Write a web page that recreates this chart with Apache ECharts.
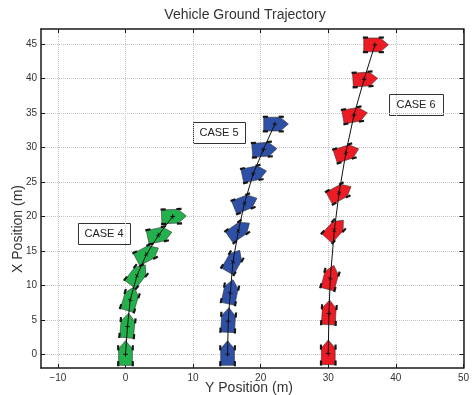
<!DOCTYPE html>
<html>
<head>
<meta charset="utf-8">
<script src="https://cdn.jsdelivr.net/npm/echarts@6/dist/echarts.min.js"></script>
<style>
  html, body { margin: 0; padding: 0; background: #fff; }
  #main { width: 472px; height: 395px; }
</style>
</head>
<body>
<div id="main"></div>
<script>
// tick values
var xTicks = [-10, 0, 10, 20, 30, 40, 50];
var yTicks = [0, 5, 10, 15, 20, 25, 30, 35, 40, 45];

// case 4 (green): lateral Y, longitudinal X, heading in degrees (0 = up, 90 = right)
var case4Y = [0, 0.3, 0.7, 1.7, 3.1, 4.9, 7.0];
var case4X = [0, 4.0, 7.9, 11.4, 14.5, 17.3, 20.0];
var case4H = [0, 5, 17, 38, 62, 78, 88];

// case 5 (blue)
var case5Y = [15.1, 15.2, 15.5, 15.9, 16.7, 17.6, 18.9, 20.4, 22.1];
var case5X = [0, 4.8, 8.9, 13.4, 17.9, 21.9, 26.2, 29.7, 33.4];
var case5H = [0, 3, 12, 30, 55, 68, 78, 86, 90];

// case 6 (red)
var case6Y = [30.0, 30.1, 30.3, 30.9, 31.6, 32.6, 33.8, 35.3, 36.9];
var case6X = [0.1, 5.9, 11.0, 18.0, 23.4, 29.2, 34.7, 39.9, 44.9];
var case6H = [0, 3, 15, 42, 62, 72, 80, 86, 90];

var caseNames = ["CASE 4", "CASE 5", "CASE 6"];

var FONT = "Liberation Sans, Arial, sans-serif";

function zip3(a, b, c) {
  var out = [];
  for (var i = 0; i < a.length; i++) out.push([a[i], b[i], c[i]]);
  return out;
}
function zip2(a, b) {
  var out = [];
  for (var i = 0; i < a.length; i++) out.push([a[i], b[i]]);
  return out;
}

// point in vehicle frame (f forward, l to the right) -> screen px
function pt(c, a, f, l, k) {
  return [c[0] + k * (f * Math.sin(a) + l * Math.cos(a)),
          c[1] + k * (-f * Math.cos(a) + l * Math.sin(a))];
}

function wheel(c, a, f, l, k) {
  var hl = 0.38, hw = 0.16;
  return {
    type: "polygon",
    shape: { points: [pt(c, a, f - hl, l - hw, k), pt(c, a, f + hl, l - hw, k),
                      pt(c, a, f + hl, l + hw, k), pt(c, a, f - hl, l + hw, k)] },
    style: { fill: "#151515" }
  };
}

function renderVehicle(color) {
  return function (params, api) {
    var c = api.coord([api.value(0), api.value(1)]);
    var k = api.size([1, 1])[0];
    var a = api.value(2) * Math.PI / 180;
    var body = [
      pt(c, a, -1.65, -1.02, k), pt(c, a, 0.8, -1.02, k), pt(c, a, 2.0, 0, k),
      pt(c, a, 0.8, 1.02, k), pt(c, a, -1.65, 1.02, k)
    ];
    return {
      type: "group",
      children: [
        { type: "polygon", shape: { points: body }, style: { fill: color, stroke: "#333", lineWidth: 0.6 } },
        wheel(c, a, -1.4, -1.08, k), wheel(c, a, -1.4, 1.08, k),
        wheel(c, a, 0.95, -1.08, k), wheel(c, a, 0.95, 1.08, k),
        { type: "line", shape: { x1: pt(c, a, -0.35, 0, k)[0], y1: pt(c, a, -0.35, 0, k)[1],
                                 x2: pt(c, a, 0.35, 0, k)[0], y2: pt(c, a, 0.35, 0, k)[1] },
          style: { stroke: "#111", lineWidth: 1 } },
        { type: "line", shape: { x1: pt(c, a, 0, -0.35, k)[0], y1: pt(c, a, 0, -0.35, k)[1],
                                 x2: pt(c, a, 0, 0.35, k)[0], y2: pt(c, a, 0, 0.35, k)[1] },
          style: { stroke: "#111", lineWidth: 1 } }
      ]
    };
  };
}

function caseBox(name, x, y, w, h) {
  return {
    type: "group",
    children: [
      { type: "rect", shape: { x: x + 0.5, y: y + 0.5, width: w, height: h },
        style: { fill: "#fff", stroke: "#333", lineWidth: 1 } },
      { type: "text", style: { text: name, x: x + w / 2, y: y + h / 2 + 0.5, align: "center",
        verticalAlign: "middle", font: "11px " + FONT, fill: "#222" } }
    ]
  };
}

function fmtTick(v) {
  return v < 0 ? "\u2212" + (-v) : String(v);
}

var axisColor = "#1a1a1a";
var gridColor = "#c4c4c4";

var option = {
  animation: false,
  backgroundColor: "#fff",
  grid: { left: 41, right: 1, top: 29, bottom: 27 },
  xAxis: [
    {
      type: "value", min: -12.5, max: 50,
      axisLine: { show: true, onZero: false, lineStyle: { color: axisColor, width: 1.5 } },
      axisTick: { show: true, inside: true, length: 4, customValues: xTicks, lineStyle: { color: axisColor } },
      axisLabel: { customValues: xTicks, formatter: fmtTick, fontSize: 10, color: "#333", margin: 5, fontFamily: FONT },
      splitLine: { show: true, lineStyle: { color: gridColor, type: "dotted", width: 1 } }
    },
    {
      type: "value", min: -12.5, max: 50, position: "top",
      axisLine: { show: true, onZero: false, lineStyle: { color: axisColor, width: 1.5 } },
      axisTick: { show: true, inside: true, length: 4, customValues: xTicks, lineStyle: { color: axisColor } },
      axisLabel: { show: false },
      splitLine: { show: false }
    }
  ],
  yAxis: [
    {
      type: "value", min: -2, max: 47.2,
      axisLine: { show: true, onZero: false, lineStyle: { color: axisColor, width: 1.5 } },
      axisTick: { show: true, inside: true, length: 4, customValues: yTicks, lineStyle: { color: axisColor } },
      axisLabel: { customValues: yTicks, formatter: fmtTick, fontSize: 10, color: "#333", margin: 4, fontFamily: FONT },
      splitLine: { show: true, lineStyle: { color: gridColor, type: "dotted", width: 1 } }
    },
    {
      type: "value", min: -2, max: 47.2, position: "right",
      axisLine: { show: true, onZero: false, lineStyle: { color: axisColor, width: 1.5 } },
      axisTick: { show: true, inside: true, length: 4, customValues: yTicks, lineStyle: { color: axisColor } },
      axisLabel: { show: false },
      splitLine: { show: false }
    }
  ],
  graphic: [
    { type: "text", style: { text: "Vehicle Ground Trajectory", x: 245, y: 15, align: "center",
      verticalAlign: "middle", font: "14px " + FONT, fill: "#333" } },
    { type: "text", style: { text: "Y Position (m)", x: 249, y: 388, align: "center",
      verticalAlign: "middle", font: "14px " + FONT, fill: "#333" } },
    { type: "text", x: 18, y: 229, rotation: Math.PI / 2, style: { text: "X Position (m)", x: 0, y: 0,
      align: "center", verticalAlign: "middle", font: "14px " + FONT, fill: "#333" } },
    caseBox(caseNames[0], 78, 223, 52, 21),
    caseBox(caseNames[1], 193, 122, 52, 21),
    caseBox(caseNames[2], 389, 94, 54, 21)
  ],
  series: [
    { type: "custom", name: caseNames[0], renderItem: renderVehicle("#22b14c"), data: zip3(case4Y, case4X, case4H), clip: true, z: 2 },
    { type: "custom", name: caseNames[1], renderItem: renderVehicle("#2e50a6"), data: zip3(case5Y, case5X, case5H), clip: true, z: 2 },
    { type: "custom", name: caseNames[2], renderItem: renderVehicle("#ed1c24"), data: zip3(case6Y, case6X, case6H), clip: true, z: 2 },
    { type: "line", data: zip2(case4Y, case4X), showSymbol: false, lineStyle: { color: "#111", width: 1 }, z: 3 },
    { type: "line", data: zip2(case5Y, case5X), showSymbol: false, lineStyle: { color: "#111", width: 1 }, z: 3 },
    { type: "line", data: zip2(case6Y, case6X), showSymbol: false, lineStyle: { color: "#111", width: 1 }, z: 3 }
  ]
};

var chart = echarts.init(document.getElementById("main"), null, { renderer: "canvas" });
chart.setOption(option);
</script>
</body>
</html>
